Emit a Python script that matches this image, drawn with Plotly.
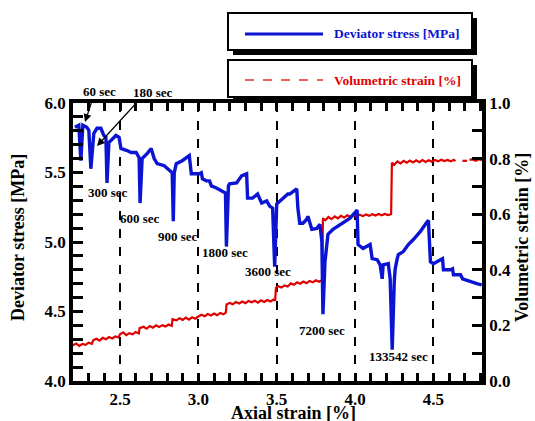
import plotly.graph_objects as go

# Deviator stress [MPa] vs axial strain [%]
stress_x = [2.212, 2.237, 2.250, 2.263, 2.288, 2.301, 2.314, 2.333, 2.353, 2.378, 2.397, 2.410, 2.417, 2.429,
            2.455, 2.474, 2.494, 2.506, 2.545, 2.571, 2.603, 2.622, 2.628, 2.641, 2.673, 2.699, 2.718, 2.737,
            2.782, 2.814, 2.833, 2.840, 2.846, 2.859, 2.897, 2.942, 2.955, 3.006, 3.019, 3.026, 3.051, 3.071,
            3.083, 3.115, 3.154, 3.173, 3.179, 3.192, 3.199, 3.244, 3.276, 3.308, 3.314, 3.346, 3.378, 3.404,
            3.436, 3.455, 3.474, 3.487, 3.500, 3.538, 3.571, 3.583, 3.628, 3.635, 3.647, 3.667, 3.692, 3.699,
            3.724, 3.756, 3.776, 3.788, 3.795, 3.808, 3.821, 3.827, 3.859, 3.917, 3.968, 4.013, 4.019, 4.051,
            4.096, 4.109, 4.141, 4.160, 4.173, 4.179, 4.212, 4.224, 4.237, 4.250, 4.256, 4.269, 4.276, 4.308,
            4.340, 4.372, 4.417, 4.449, 4.468, 4.481, 4.500, 4.545, 4.558, 4.564, 4.609, 4.622, 4.628, 4.673,
            4.686, 4.705, 4.737, 4.782, 4.808]
stress_y = [5.825, 5.840, 5.585, 5.840, 5.825, 5.804, 5.527, 5.782, 5.818, 5.818, 5.767, 5.753, 5.425, 5.716,
            5.745, 5.767, 5.753, 5.673, 5.658, 5.644, 5.644, 5.607, 5.280, 5.600, 5.636, 5.673, 5.600, 5.564,
            5.549, 5.513, 5.498, 5.149, 5.498, 5.564, 5.585, 5.622, 5.491, 5.491, 5.498, 5.455, 5.440, 5.440,
            5.404, 5.389, 5.367, 5.353, 4.967, 5.404, 5.418, 5.425, 5.476, 5.491, 5.316, 5.316, 5.345, 5.280,
            5.295, 5.258, 5.244, 4.822, 5.273, 5.309, 5.345, 5.345, 5.382, 5.244, 5.135, 5.135, 5.164, 5.185,
            5.091, 5.098, 5.127, 5.004, 4.480, 4.858, 5.004, 5.055, 5.091, 5.135, 5.171, 5.229, 4.982, 4.953,
            4.982, 4.880, 4.873, 4.836, 4.735, 4.836, 4.844, 4.735, 4.225, 4.713, 4.807, 4.880, 4.909, 4.931,
            4.982, 5.018, 5.076, 5.127, 5.156, 4.858, 4.844, 4.873, 4.880, 4.800, 4.800, 4.807, 4.764, 4.764,
            4.735, 4.727, 4.713, 4.698, 4.691]

# Volumetric strain [%] vs axial strain [%]
vol_x = [2.20, 2.22, 2.24, 2.26, 2.28, 2.30, 2.32, 2.33, 2.35, 2.37, 2.39, 2.41, 2.43, 2.45, 2.47, 2.49,
         2.50, 2.52, 2.54, 2.56, 2.58, 2.60, 2.62, 2.625, 2.65, 2.67, 2.69, 2.71, 2.73, 2.75, 2.77, 2.79,
         2.81, 2.83, 2.835, 2.86, 2.88, 2.90, 2.92, 2.94, 2.96, 2.98, 3.00, 3.02, 3.04, 3.06, 3.08, 3.10,
         3.12, 3.14, 3.16, 3.175, 3.18, 3.20, 3.22, 3.24, 3.26, 3.28, 3.30, 3.32, 3.34, 3.36, 3.38, 3.40,
         3.42, 3.44, 3.46, 3.48, 3.49, 3.495, 3.51, 3.53, 3.55, 3.57, 3.59, 3.61, 3.63, 3.65, 3.67, 3.69,
         3.71, 3.73, 3.75, 3.77, 3.79, 3.795, 3.81, 3.83, 3.85, 3.87, 3.89, 3.91, 3.93, 3.95, 3.97, 3.99,
         4.01, 4.03, 4.05, 4.07, 4.09, 4.11, 4.13, 4.15, 4.17, 4.19, 4.21, 4.23, 4.235, 4.25, 4.27, 4.29,
         4.31, 4.33, 4.35, 4.37, 4.39, 4.41, 4.43, 4.45, 4.47, 4.49, 4.51, 4.53, 4.55, 4.57, 4.59, 4.61,
         4.63, 4.64, None, 4.685, 4.715, None, 4.73, 4.75, 4.77, 4.79, 4.81]
vol_y = [0.128, 0.135, 0.126, 0.133, 0.130, 0.138, 0.134, 0.147, 0.152, 0.145, 0.155, 0.150, 0.158, 0.153, 0.160, 0.157,
         0.168, 0.175, 0.165, 0.172, 0.168, 0.176, 0.171, 0.190, 0.195, 0.188, 0.198, 0.192, 0.200, 0.194, 0.201, 0.196,
         0.203, 0.198, 0.222, 0.218, 0.226, 0.220, 0.228, 0.221, 0.229, 0.224, 0.232, 0.238, 0.233, 0.241, 0.236, 0.243,
         0.237, 0.245, 0.240, 0.246, 0.275, 0.281, 0.276, 0.284, 0.279, 0.286, 0.280, 0.288, 0.283, 0.289, 0.282, 0.290,
         0.284, 0.291, 0.286, 0.293, 0.289, 0.335, 0.341, 0.336, 0.344, 0.340, 0.351, 0.346, 0.355, 0.350, 0.358, 0.352,
         0.360, 0.355, 0.362, 0.357, 0.363, 0.585, 0.578, 0.590, 0.582, 0.592, 0.585, 0.594, 0.588, 0.596, 0.590, 0.597,
         0.592, 0.598, 0.593, 0.599, 0.594, 0.600, 0.595, 0.601, 0.596, 0.601, 0.597, 0.600, 0.785, 0.778, 0.790, 0.783,
         0.792, 0.785, 0.793, 0.786, 0.794, 0.787, 0.795, 0.788, 0.794, 0.789, 0.795, 0.790, 0.796, 0.791, 0.795, 0.790,
         0.796, 0.791, None, 0.792, 0.792, None, 0.796, 0.797, 0.792, 0.798, 0.794]

# Hold-time labels
label_text = ["300 sec", "600 sec", "900 sec", "1800 sec", "3600 sec", "7200 sec", "133542 sec"]
label_x = [2.423, 2.628, 2.872, 3.173, 3.442, 3.788, 4.276]
label_y = [5.353, 5.171, 5.040, 4.924, 4.785, 4.364, 4.175]

FONT = "Liberation Serif"
BLUE = "#0a14d2"
RED = "#e00000"

# plot-area geometry in pixels (used only for paper-coordinate decorations)
L, R, T, B = 73, 482, 103, 381

def px2x(px):
    return (px - L) / float(R - L)

def py2y(py):
    return (B - py) / float(B - T)

fig = go.Figure()
fig.add_trace(go.Scatter(x=vol_x, y=vol_y, mode="lines", yaxis="y",
                         line=dict(color=RED, width=2.2), connectgaps=False,
                         name="Volumetric strain [%]", showlegend=False))
fig.add_trace(go.Scatter(x=stress_x, y=stress_y, mode="lines", yaxis="y2",
                         line=dict(color=BLUE, width=3.4),
                         name="Deviator stress [MPa]", showlegend=False))

tickfont = dict(family=FONT, size=17, color="black", weight="bold")
titlefont = dict(family=FONT, size=18, color="black", weight="bold")

fig.update_layout(
    width=535, height=421,
    margin=dict(l=L, r=535 - R, t=T, b=421 - B),
    paper_bgcolor="white", plot_bgcolor="white",
    showlegend=False,
    xaxis=dict(range=[2.2, 4.81], tickvals=[2.5, 3.0, 3.5, 4.0, 4.5],
               ticktext=["2.5", "3.0", "3.5", "4.0", "4.5"],
               ticks="inside", ticklen=8, tickwidth=2.5, tickcolor="black",
               minor=dict(dtick=0.1, tick0=2.2, ticks="inside", ticklen=8, tickwidth=2.5, tickcolor="black"),
               showline=True, linewidth=3.5, linecolor="black", mirror="ticks",
               showgrid=True, gridcolor="black", gridwidth=2, griddash="dash",
               zeroline=False, tickfont=tickfont, automargin=False),
    yaxis=dict(range=[0, 1.0], side="right", tickvals=[0, 0.2, 0.4, 0.6, 0.8, 1.0],
               ticktext=["0.0", "0.2", "0.4", "0.6", "0.8", "1.0"],
               ticks="inside", ticklen=10, tickwidth=2.5, tickcolor="black",
               minor=dict(dtick=0.1, ticks="inside", ticklen=10, tickwidth=2.5, tickcolor="black"),
               showline=True, linewidth=3.5, linecolor="black",
               showgrid=False, zeroline=False, tickfont=tickfont, automargin=False),
    yaxis2=dict(range=[4.0, 6.0], side="left", overlaying="y",
                tickvals=[4.0, 4.5, 5.0, 5.5, 6.0], ticktext=["4.0", "4.5", "5.0", "5.5", "6.0"],
                ticks="inside", ticklen=10, tickwidth=2.5, tickcolor="black",
                minor=dict(dtick=0.1, ticks="inside", ticklen=10, tickwidth=2.5, tickcolor="black"),
                showline=True, linewidth=3.5, linecolor="black",
                showgrid=False, zeroline=False, tickfont=tickfont, automargin=False),
)

# Axis titles
fig.add_annotation(x=px2x(293), y=py2y(413), xref="paper", yref="paper", text="Axial strain [%]",
                   showarrow=False, font=titlefont, xanchor="center", yanchor="middle")
fig.add_annotation(x=px2x(18), y=py2y(238), xref="paper", yref="paper", text="Deviator stress [MPa]",
                   showarrow=False, font=titlefont, textangle=-90, xanchor="center", yanchor="middle")
fig.add_annotation(x=px2x(522), y=py2y(238), xref="paper", yref="paper", text="Volumetric strain [%]",
                   showarrow=False, font=titlefont, textangle=-90, xanchor="center", yanchor="middle")

ann_font = dict(family=FONT, size=13, color="black", weight="bold")
for t, x, y in zip(label_text, label_x, label_y):
    fig.add_annotation(x=x, y=y, xref="x", yref="y2", text=t, showarrow=False, font=ann_font)

# arrow labels above the frame (paper coords so they are not hidden)
fig.add_annotation(x=px2x(99), y=py2y(91), xref="paper", yref="paper", text="60 sec",
                   showarrow=False, font=ann_font, xanchor="center", yanchor="middle")
fig.add_annotation(x=px2x(153), y=py2y(92), xref="paper", yref="paper", text="180 sec",
                   showarrow=False, font=ann_font, xanchor="center", yanchor="middle")
fig.add_annotation(x=px2x(85), y=py2y(122), xref="paper", yref="paper",
                   ax=8, ay=-24, axref="pixel", ayref="pixel",
                   text="", showarrow=True, arrowhead=2, arrowsize=1.3, arrowwidth=1.2, arrowcolor="black")
fig.add_annotation(x=px2x(97), y=py2y(146), xref="paper", yref="paper",
                   ax=43, ay=-47, axref="pixel", ayref="pixel",
                   text="", showarrow=True, arrowhead=2, arrowsize=1.3, arrowwidth=1.2, arrowcolor="black")

# Legend boxes with drop shadow (paper coords)
for (top, bot) in [(13, 50), (60, 97)]:
    fig.add_shape(type="rect", xref="paper", yref="paper",
                  x0=px2x(233), x1=px2x(477), y0=py2y(bot + 5), y1=py2y(top + 5),
                  fillcolor="black", line=dict(color="black", width=0))
    fig.add_shape(type="rect", xref="paper", yref="paper",
                  x0=px2x(228), x1=px2x(472), y0=py2y(bot), y1=py2y(top),
                  fillcolor="white", line=dict(color="black", width=2))

fig.add_shape(type="line", xref="paper", yref="paper", x0=px2x(245), x1=px2x(323),
              y0=py2y(34), y1=py2y(34), line=dict(color=BLUE, width=3))
fig.add_shape(type="line", xref="paper", yref="paper", x0=px2x(245), x1=px2x(323),
              y0=py2y(80), y1=py2y(80), line=dict(color="#f06060", width=2, dash="dash"))
fig.add_annotation(xref="paper", yref="paper", x=px2x(332), y=py2y(33), xanchor="left", yanchor="middle",
                   text="Deviator stress [MPa]", showarrow=False,
                   font=dict(family=FONT, size=13.5, color=BLUE, weight="bold"))
fig.add_annotation(xref="paper", yref="paper", x=px2x(332), y=py2y(80), xanchor="left", yanchor="middle",
                   text="Volumetric strain [%]", showarrow=False,
                   font=dict(family=FONT, size=13.5, color=RED, weight="bold"))

fig.write_html("out.html", config={"displayModeBar": False},
               post_script="document.body.style.margin='0';document.body.style.overflow='hidden';")
